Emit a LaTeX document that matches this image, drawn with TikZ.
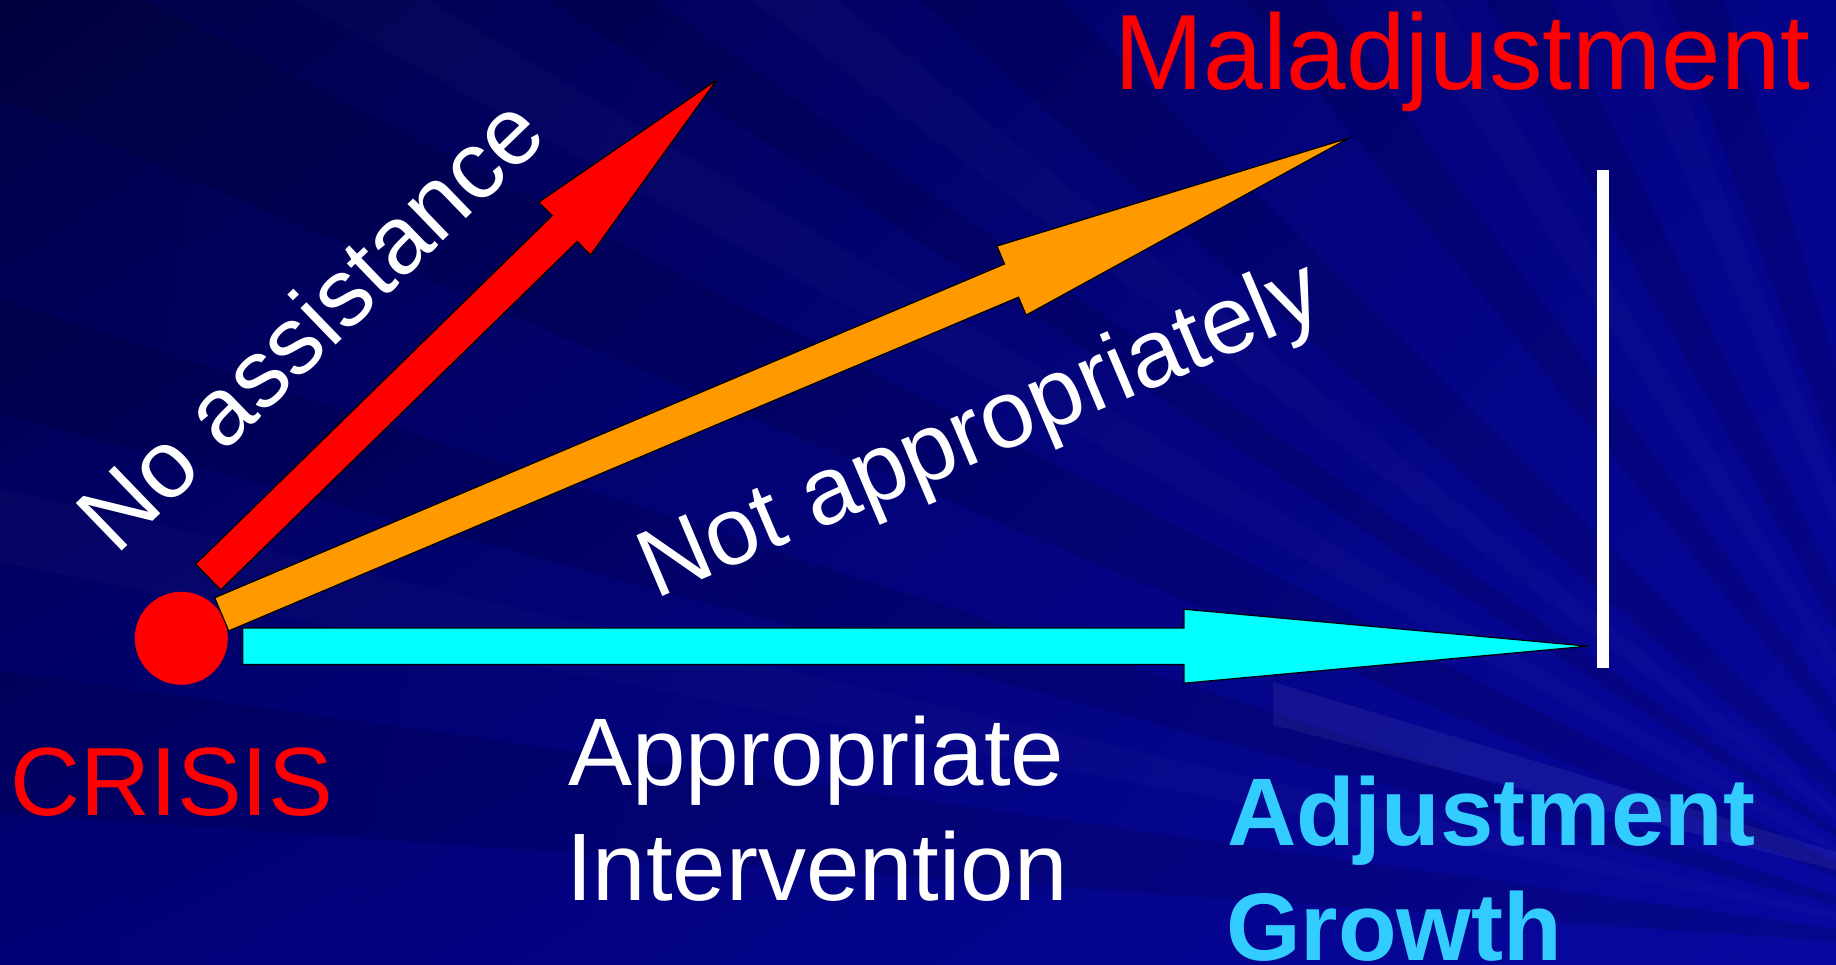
\documentclass[tikz,border=0pt]{standalone}
\usepackage{fontspec}
\setmainfont{Liberation Sans}
\usetikzlibrary{calc,shadings}
\definecolor{bgUL}{RGB}{0,0,70}
\definecolor{bgUR}{RGB}{4,4,138}
\definecolor{bgLL}{RGB}{0,0,118}
\definecolor{bgLR}{RGB}{8,8,160}
\definecolor{arrred}{RGB}{255,0,0}
\definecolor{arrorange}{RGB}{255,153,0}
\definecolor{arrcyan}{RGB}{0,255,255}
\definecolor{txtcyan}{RGB}{51,204,255}
\tikzset{
  blockarrow/.style={draw=black, line width=1.2pt, line join=miter},
  lbl/.style={inner sep=0pt, outer sep=0pt, anchor=base west},
  bigtxt/.style={font=\fontsize{96}{115}\selectfont},
  boldtxt/.style={font=\fontsize{96}{115}\selectfont\bfseries},
  darkray/.style={fill=black, fill opacity=0.11},
  lightray/.style={fill=white, fill opacity=0.02},
}
\newcommand\fatarrow[6]{%
  \path ($(#2)!#5!(#1)$) coordinate (hb);
  \filldraw[blockarrow,fill=#6]
    ($(#1)!#3!90:(#2)$) -- ($(hb)!#3!90:(#2)$) -- ($(hb)!#4!90:(#2)$) -- (#2)
    -- ($(hb)!#4!-90:(#2)$) -- ($(hb)!#3!-90:(#2)$) -- ($(#1)!#3!-90:(#2)$) -- cycle;
}
\begin{document}
\begin{tikzpicture}[x=1pt,y=-1pt]
\useasboundingbox (0,0) rectangle (1836,965);
% background
\begin{scope}
  \clip (0,0) rectangle (1836,965);
  \shade[upper left=bgUL, upper right=bgUR, lower left=bgLL, lower right=bgLR] (0,0) rectangle (1836,965);
  \coordinate (raysrc) at (2016,954);
  \foreach \a/\b in {-176/-172,-165/-162,-157/-153,-147/-145,-139/-135,-129/-126,-119/-116,-110/-107}
    \fill[darkray] (raysrc) -- ($(raysrc)+(\a:2600)$) -- ($(raysrc)+(\b:2600)$) -- cycle;
  \foreach \a/\b in {-169/-167,-151/-149,-143/-141,-123/-121,-113/-111}
    \fill[lightray] (raysrc) -- ($(raysrc)+(\a:2600)$) -- ($(raysrc)+(\b:2600)$) -- cycle;
  \fill[white, fill opacity=0.06] (1273,682) -- (1836,852) -- (1836,870) -- (1273,725) -- cycle;
\end{scope}
% crisis dot
\node[circle, fill=arrred, minimum size=93pt, inner sep=0pt] (crisisdot) at (181.3,638.3) {};
% arrows
\coordinate (cyanstart) at (242.7,646.2);
\coordinate (cyantip) at (1588,646.2);
\coordinate (orgstart) at (221.7,614.3);
\coordinate (orgtip) at (1349,138);
\coordinate (redstart) at (208.2,577);
\coordinate (redtip) at (716.7,80);
\fatarrow{cyanstart}{cyantip}{18.3pt}{37pt}{404pt}{arrcyan}
\fatarrow{orgstart}{orgtip}{18pt}{37.5pt}{366.4pt}{arrorange}
\fatarrow{redstart}{redtip}{18pt}{37pt}{212.6pt}{arrred}
% white bar
\coordinate (bartop) at (1603,170);
\coordinate (barbot) at (1603,668);
\draw[white, line width=12pt] (bartop) -- (barbot);
% labels
\node[lbl, text=arrred, font=\fontsize{107}{128}\selectfont] (mal) at (1114.6,90) {Maladjustment};
\node[lbl, text=arrred, font=\fontsize{97}{116}\selectfont] (crisis) at (10,815) {CRISIS};
\node[lbl, bigtxt, text=white] (appr) at (568,785) {Appropriate};
\node[lbl, bigtxt, text=white] (interv) at (566,900) {Intervention};
\node[lbl, boldtxt, text=txtcyan] (adj) at (1227,845) {Adjustment};
\node[lbl, boldtxt, text=txtcyan] (growth) at (1226,960) {Growth};
\node[lbl, bigtxt, text=white, rotate=44] (noassist) at (116.5,556.7) {No assistance};
\node[lbl, bigtxt, text=white, rotate=23] (notappr) at (655,599.5) {Not appropriately};
\end{tikzpicture}
\end{document}
